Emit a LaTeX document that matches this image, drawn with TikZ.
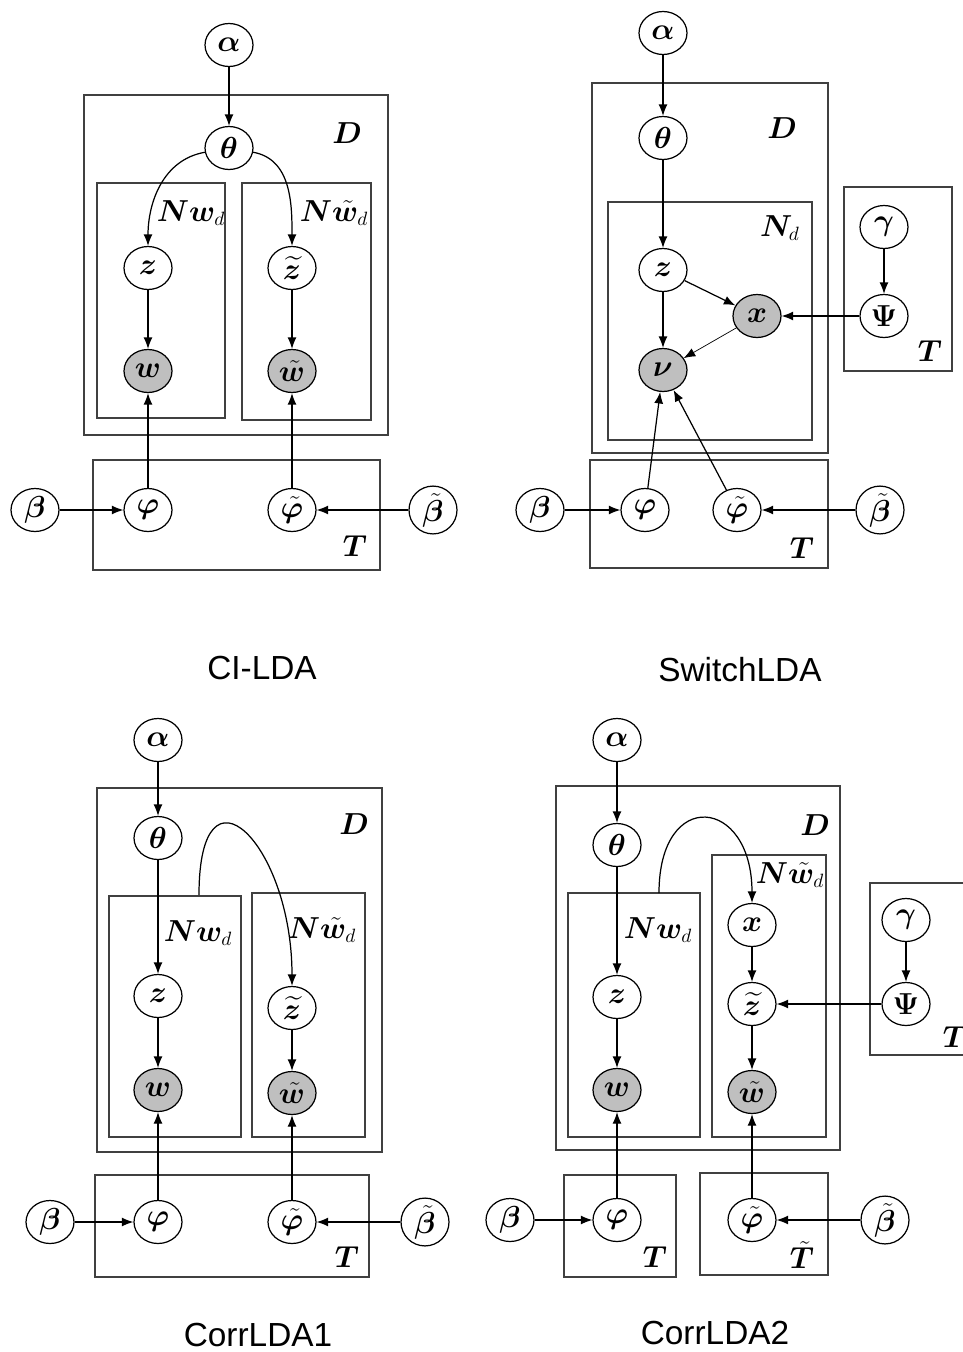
\documentclass[tikz,border=0pt]{standalone}
\usepackage{amsmath}
\usepackage{bm}
\usepackage{fontspec}
\setsansfont{Liberation Sans}
\usetikzlibrary{shapes.geometric, arrows.meta}

\tikzset{
  var/.style = {draw, ellipse, minimum width=0.96cm, minimum height=0.86cm, inner sep=0pt,
                line width=0.7pt, font=\fontsize{17}{20}\selectfont},
  obs/.style = {var, fill=black!25},
  plate/.style = {draw=black!75, line width=0.9pt},
  lbl/.style = {inner sep=1pt, font=\fontsize{16}{19}\selectfont},
  panelname/.style = {font=\sffamily\fontsize{19}{22}\selectfont},
  arr/.style = {-{Latex[length=2.3mm,width=1.8mm]}, line width=0.7pt},
}

\begin{document}
\begin{tikzpicture}[x=0.02cm, y=-0.02cm]
\useasboundingbox (0,0) rectangle (963,1352);

% CI-LDA
\draw[plate] (84,95) rectangle (388,435);
\draw[plate] (97,183) rectangle (225,418);
\draw[plate] (242,183) rectangle (371,420);
\draw[plate] (93,460) rectangle (380,570);
\node[lbl] (d1) at (347,133) {$\bm{D}$};
\node[lbl] (nw1) at (191,213) {$\bm{Nw}_d$};
\node[lbl] (nwt1) at (334,213) {$\bm{N\tilde w}_d$};
\node[lbl] (t1) at (355,546) {$\bm{T}$};
\node[var] (a1) at (229,45) {$\bm{\alpha}$};
\node[var] (th1) at (229,148) {$\bm{\theta}$};
\node[var] (z1) at (148,268) {$\bm{z}$};
\node[var] (zt1) at (292,268) {$\bm{\widetilde{z}}$};
\node[obs] (w1) at (148,371) {$\bm{w}$};
\node[obs] (wt1) at (292,371) {$\bm{\tilde w}$};
\node[var] (b1) at (35,510) {$\bm{\beta}$};
\node[var] (ph1) at (148,510) {$\bm{\varphi}$};
\node[var] (pht1) at (292,510) {$\bm{\tilde\varphi}$};
\node[var] (bt1) at (433,510) {$\bm{\tilde\beta}$};
\draw[arr] (a1) -- (th1);
\draw[arr] (th1) to[out=190, in=90] (z1);
\draw[arr] (th1) to[out=-10, in=90] (zt1);
\draw[arr] (z1) -- (w1);
\draw[arr] (zt1) -- (wt1);
\draw[arr] (ph1) -- (w1);
\draw[arr] (pht1) -- (wt1);
\draw[arr] (b1) -- (ph1);
\draw[arr] (bt1) -- (pht1);
\node[panelname] (n1) at (262,668) {CI-LDA};

% SwitchLDA
\draw[plate] (592,83) rectangle (828,453);
\draw[plate] (608,202) rectangle (812,440);
\draw[plate] (844,187) rectangle (952,371);
\draw[plate] (590,460) rectangle (828,568);
\node[lbl] (d2) at (782,128) {$\bm{D}$};
\node[lbl] (nd2) at (780,228) {$\bm{N}_d$};
\node[lbl] (tr2) at (930,351) {$\bm{T}$};
\node[lbl] (t2) at (802,548) {$\bm{T}$};
\node[var] (a2) at (663,33) {$\bm{\alpha}$};
\node[var] (th2) at (663,138) {$\bm{\theta}$};
\node[var] (z2) at (663,270) {$\bm{z}$};
\node[obs] (x2) at (757,316) {$\bm{x}$};
\node[obs] (v2) at (663,370) {$\bm{\nu}$};
\node[var] (g2) at (884,227) {$\bm{\gamma}$};
\node[var] (psi2) at (884,316) {$\bm{\Psi}$};
\node[var] (b2) at (540,510) {$\bm{\beta}$};
\node[var] (ph2) at (645,510) {$\bm{\varphi}$};
\node[var] (pht2) at (737,510) {$\bm{\tilde\varphi}$};
\node[var] (bt2) at (880,510) {$\bm{\tilde\beta}$};
\draw[arr] (a2) -- (th2);
\draw[arr] (th2) -- (z2);
\draw[arr] (z2) -- (x2);
\draw[arr] (z2) -- (v2);
\draw[arr, line width=0.4pt] (x2) -- (v2);
\draw[arr] (psi2) -- (x2);
\draw[arr] (g2) -- (psi2);
\draw[arr] (ph2) -- (v2);
\draw[arr] (pht2) -- (v2);
\draw[arr] (b2) -- (ph2);
\draw[arr] (bt2) -- (pht2);
\node[panelname] (n2) at (740,670) {SwitchLDA};

% CorrLDA1
\draw[plate] (97,788) rectangle (382,1152);
\draw[plate] (109,896) rectangle (241,1137);
\draw[plate] (252,893) rectangle (365,1137);
\draw[plate] (95,1175) rectangle (369,1277);
\node[lbl] (d3) at (354,824) {$\bm{D}$};
\node[lbl] (nw3) at (198,933) {$\bm{Nw}_d$};
\node[lbl] (nwt3) at (322,930) {$\bm{N\tilde w}_d$};
\node[lbl] (t3) at (347,1257) {$\bm{T}$};
\node[var] (a3) at (158,740) {$\bm{\alpha}$};
\node[var] (th3) at (158,838) {$\bm{\theta}$};
\node[var] (z3) at (158,996) {$\bm{z}$};
\node[var] (zt3) at (292,1008) {$\bm{\widetilde{z}}$};
\node[obs] (w3) at (158,1090) {$\bm{w}$};
\node[obs] (wt3) at (292,1093) {$\bm{\tilde w}$};
\node[var] (b3) at (50,1222) {$\bm{\beta}$};
\node[var] (ph3) at (158,1222) {$\bm{\varphi}$};
\node[var] (pht3) at (292,1222) {$\bm{\tilde\varphi}$};
\node[var] (bt3) at (425,1222) {$\bm{\tilde\beta}$};
\coordinate (s3) at (199,895);
\draw[arr] (a3) -- (th3);
\draw[arr] (th3) -- (z3);
\draw[arr] (s3) to[out=90, in=90, looseness=2.8] (zt3);
\draw[arr] (z3) -- (w3);
\draw[arr] (zt3) -- (wt3);
\draw[arr] (ph3) -- (w3);
\draw[arr] (pht3) -- (wt3);
\draw[arr] (b3) -- (ph3);
\draw[arr] (bt3) -- (pht3);
\node[panelname] (n3) at (258,1335) {CorrLDA1};

% CorrLDA2
\draw[plate] (556,786) rectangle (840,1150);
\draw[plate] (568,893) rectangle (700,1137);
\draw[plate] (712,855) rectangle (826,1137);
\draw[plate] (975,883) -- (870,883) -- (870,1055) -- (975,1055);
\draw[plate] (564,1175) rectangle (676,1277);
\draw[plate] (700,1173) rectangle (828,1275);
\node[lbl] (d4) at (815,825) {$\bm{D}$};
\node[lbl] (nw4) at (658,930) {$\bm{Nw}_d$};
\node[lbl] (nwt4) at (790,875) {$\bm{N\tilde w}_d$};
\node[lbl] (tr4) at (955,1037) {$\bm{T}$};
\node[lbl] (t4) at (655,1257) {$\bm{T}$};
\node[lbl] (tt4) at (802,1255) {$\bm{\tilde T}$};
\node[var] (a4) at (617,740) {$\bm{\alpha}$};
\node[var] (th4) at (617,845) {$\bm{\theta}$};
\node[var] (z4) at (617,997) {$\bm{z}$};
\node[obs] (w4) at (617,1090) {$\bm{w}$};
\node[var] (x4) at (752,925) {$\bm{x}$};
\node[var] (zt4) at (752,1004) {$\bm{\widetilde{z}}$};
\node[obs] (wt4) at (752,1092) {$\bm{\tilde w}$};
\node[var] (g4) at (906,920) {$\bm{\gamma}$};
\node[var] (psi4) at (906,1004) {$\bm{\Psi}$};
\node[var] (b4) at (510,1220) {$\bm{\beta}$};
\node[var] (ph4) at (617,1220) {$\bm{\varphi}$};
\node[var] (pht4) at (752,1220) {$\bm{\tilde\varphi}$};
\node[var] (bt4) at (885,1220) {$\bm{\tilde\beta}$};
\coordinate (s4) at (659,893);
\draw[arr] (a4) -- (th4);
\draw[arr] (th4) -- (z4);
\draw[arr] (s4) to[out=90, in=90, looseness=2.9] (x4);
\draw[arr] (z4) -- (w4);
\draw[arr] (x4) -- (zt4);
\draw[arr] (zt4) -- (wt4);
\draw[arr] (psi4) -- (zt4);
\draw[arr] (g4) -- (psi4);
\draw[arr] (ph4) -- (w4);
\draw[arr] (pht4) -- (wt4);
\draw[arr] (b4) -- (ph4);
\draw[arr] (bt4) -- (pht4);
\node[panelname] (n4) at (715,1333) {CorrLDA2};
\end{tikzpicture}
\end{document}
